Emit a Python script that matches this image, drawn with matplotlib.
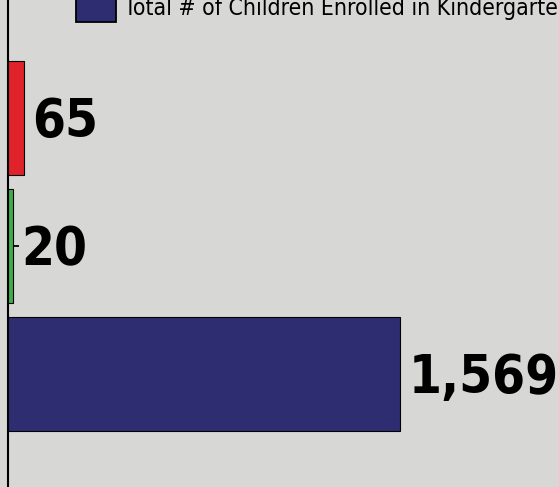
import matplotlib
matplotlib.use("Agg")
import matplotlib.pyplot as plt
from matplotlib.patches import Patch

# bottom -> top, as drawn
categories = ["Total enrolled", "Group B", "Group A"]
values = [1569, 20, 65]
bar_colors = ["#2e2d72", "#3cae4a", "#e0232b"]
value_labels = ["1,569", "20", "65"]
legend_label = "Total # of Children Enrolled in Kindergarten"

BG = "#d7d7d5"
FONT = "DejaVu Sans"

fig = plt.figure(figsize=(5.59, 4.87), dpi=100)
fig.patch.set_facecolor(BG)
ax = fig.add_axes([8 / 559, 0, 1 - 8 / 559, 1])
ax.set_facecolor(BG)

ypos = list(range(len(categories)))
ax.barh(ypos, values, height=0.89, color=bar_colors, edgecolor="black",
        linewidth=0.8, zorder=3)

for y, v, lab in zip(ypos, values, value_labels):
    ax.annotate(lab, (v, y), xytext=(6, -3), textcoords="offset points",
                ha="left", va="center", fontsize=38, fontweight="bold",
                family=FONT, fontstretch="condensed", color="black", zorder=4)

ax.set_xlim(0, 2205)
ax.set_ylim(-0.88, 2.92)
ax.set_yticks(ypos)
ax.set_yticklabels([])
ax.tick_params(axis="y", direction="in", length=8, width=1.3, color="black")
ax.xaxis.set_visible(False)
for side in ("top", "right", "bottom"):
    ax.spines[side].set_visible(False)
ax.spines["left"].set_linewidth(1.5)

handles = [Patch(facecolor=bar_colors[0], edgecolor="black", linewidth=1.3)]
ax.legend(handles, [legend_label], loc="lower left",
          bbox_to_anchor=(60 / 559, 1 - 38 / 487), bbox_transform=fig.transFigure,
          frameon=False, handlelength=1.75, handleheight=1.6, handletextpad=0.35,
          borderpad=0.2, prop={"family": FONT, "stretch": "condensed", "size": 16.5})

fig.savefig("out.png", dpi=100, facecolor=BG)
